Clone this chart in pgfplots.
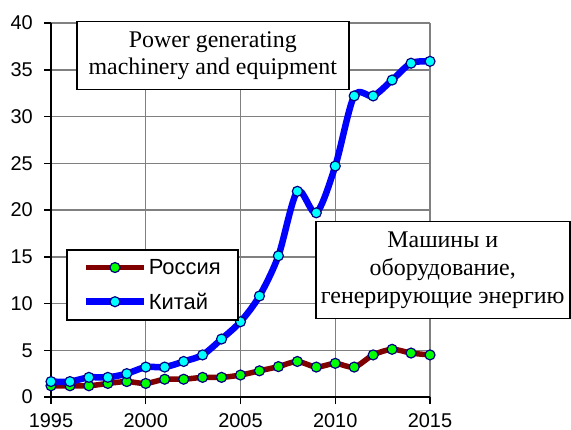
\documentclass[border=0pt]{standalone}
\usepackage{fontspec}
\setmainfont{Liberation Serif}
\newfontfamily\arialf{Liberation Sans}
\usepackage{pgfplots}
\pgfplotsset{compat=1.18}
\definecolor{RusLine}{HTML}{800000}
\definecolor{RusMark}{HTML}{00FF00}
\definecolor{ChnLine}{HTML}{0000FF}
\definecolor{ChnMark}{HTML}{00FFFF}
\definecolor{MarkEdge}{HTML}{000080}
\definecolor{GridGray}{HTML}{808080}

\begin{document}
\begin{tikzpicture}
\useasboundingbox (-51bp,-33bp) rectangle (520bp,397bp);
\begin{axis}[
  scale only axis,width=379bp,height=374bp,
  xmin=1995,xmax=2015,ymin=0,ymax=40,
  xtick={1995,2000,...,2015},ytick={0,5,...,40},
  x tick label style={/pgf/number format/1000 sep={},inner sep=0pt,yshift=-9bp},
  y tick label style={inner sep=0pt,xshift=-11bp},
  axis x line=bottom,axis y line=left,
  axis line style={-,black,line width=1.5bp},
  tick align=outside,major tick length=7bp,
  tick style={black,line width=1.5bp},
  grid=major,grid style={GridGray,line width=1.5bp},
  ticklabel style={font=\arialf\fontsize{20}{22}\selectfont},
  /pgf/number format/assume math mode=true,
  clip=false,
  legend style={at={(0.0396,0.3957)},anchor=north west,
    font=\arialf\fontsize{22}{24}\selectfont,
    draw=black,line width=1.5bp,inner xsep=16bp,inner ysep=8bp,
    nodes={inner sep=1.5bp},row sep=14bp},
  legend cell align=left,
  legend image code/.code={
    \draw[mark repeat=2,mark phase=2] plot coordinates {(0bp,0bp) (29bp,0bp) (58bp,0bp)};
  },
]
\addplot[RusLine,line width=5.5bp,smooth,tension=0.5,
  mark=*,mark size=5bp,mark options={fill=RusMark,draw=MarkEdge,line width=1.2bp}] coordinates {
  (1995,1.2)(1996,1.2)(1997,1.2)(1998,1.45)(1999,1.65)(2000,1.45)(2001,1.9)
  (2002,1.9)(2003,2.1)(2004,2.1)(2005,2.35)(2006,2.8)(2007,3.25)(2008,3.8)
  (2009,3.2)(2010,3.6)(2011,3.2)(2012,4.5)(2013,5.1)(2014,4.7)(2015,4.5)};
\addlegendentry{Россия}
\addplot[ChnLine,line width=6.5bp,smooth,tension=0.5,
  mark=*,mark size=5bp,mark options={fill=ChnMark,draw=MarkEdge,line width=1.2bp}] coordinates {
  (1995,1.65)(1996,1.65)(1997,2.1)(1998,2.1)(1999,2.5)(2000,3.2)(2001,3.2)
  (2002,3.8)(2003,4.5)(2004,6.2)(2005,8.05)(2006,10.8)(2007,15.1)(2008,22.0)
  (2009,19.7)(2010,24.7)(2011,32.2)(2012,32.2)(2013,33.9)(2014,35.7)(2015,35.9)};
\addlegendentry{Китай}
\end{axis}
\node[draw=black,line width=1.5bp,fill=white,anchor=north west,
  minimum width=272bp,minimum height=68bp,align=center,inner sep=0pt,
  font=\fontsize{24}{27.5}\selectfont] at (25bp,376bp)
  {Power generating\\machinery and equipment};
\node[draw=black,line width=1.5bp,fill=white,anchor=north west,
  minimum width=254bp,minimum height=97bp,align=center,inner sep=0pt,
  font=\fontsize{24}{28}\selectfont] at (264bp,176bp)
  {Машины и\\оборудование,\\генерирующие энергию};
\end{tikzpicture}
\end{document}
